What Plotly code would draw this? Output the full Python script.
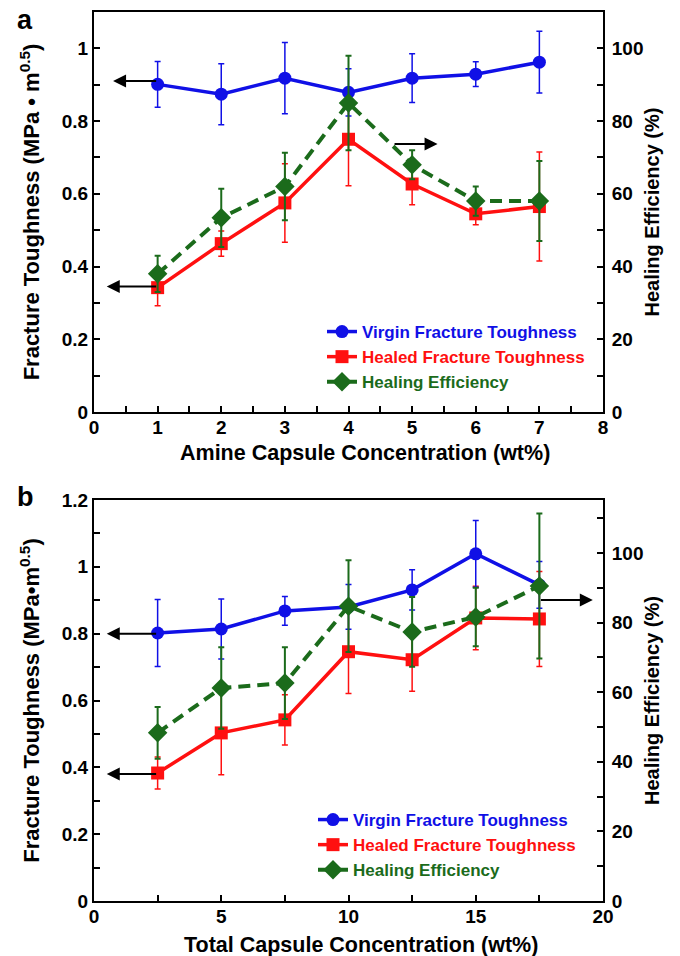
import plotly.graph_objects as go
from plotly.subplots import make_subplots

# ---------- Panel a data ----------
a_x = [1, 2, 3, 4, 5, 6, 7]
a_virgin = [0.901, 0.874, 0.918, 0.879, 0.918, 0.929, 0.962]
a_virgin_err = [0.063, 0.084, 0.098, 0.065, 0.067, 0.034, 0.085]
a_healed = [0.342, 0.463, 0.575, 0.750, 0.627, 0.545, 0.565]
a_healed_err = [0.050, 0.035, 0.108, 0.128, 0.057, 0.030, 0.150]
a_eff = [38, 53.4, 62, 85, 68, 58, 58]
a_eff_err = [5, 8, 9.3, 13, 4, 4, 11]

# ---------- Panel b data ----------
b_x = [2.5, 5, 7.5, 10, 12.5, 15, 17.5]
b_virgin = [0.802, 0.814, 0.868, 0.880, 0.931, 1.039, 0.946]
b_virgin_err = [0.100, 0.090, 0.043, 0.067, 0.060, 0.100, 0.070]
b_healed = [0.383, 0.503, 0.542, 0.746, 0.722, 0.847, 0.844]
b_healed_err = [0.048, 0.125, 0.075, 0.125, 0.094, 0.095, 0.142]
b_eff = [48.3, 61.2, 62.6, 84.7, 77.3, 81.6, 90.5]
b_eff_err = [7.4, 11.7, 10.3, 13.2, 10, 8.4, 20.8]

# arrows: (head_x, head_y, tail_x, tail_y) on left axis units
a_arrows = [(0.3, 0.91, 1.0, 0.91), (0.2, 0.345, 1.0, 0.345), (5.4, 0.737, 4.7, 0.737)]
b_arrows = [(0.5, 0.80, 2.5, 0.80), (0.5, 0.38, 2.5, 0.38), (19.6, 0.901, 17.5, 0.901)]

BLUE = "#1010e6"
RED = "#ff1010"
GREEN = "#1b6b1b"
FONT = "Liberation Sans, Arial, sans-serif"

fig = make_subplots(rows=2, cols=1, specs=[[{"secondary_y": True}], [{"secondary_y": True}]])


def add_panel(row, x, v, ve, h, he, e, ee):
    leg = "legend" if row == 1 else "legend2"
    fig.add_trace(go.Scatter(
        x=x, y=h, mode="lines+markers",
        name='<span style="color:#ff1010">Healed Fracture Toughness</span>',
        line=dict(color=RED, width=3.5),
        marker=dict(symbol="square", size=13, color=RED),
        error_y=dict(type="data", array=he, color=RED, thickness=1.5, width=3),
        showlegend=True, legendrank=2, legend=leg),
        row=row, col=1, secondary_y=False)
    fig.add_trace(go.Scatter(
        x=x, y=v, mode="lines+markers",
        name='<span style="color:#1010e6">Virgin Fracture Toughness</span>',
        line=dict(color=BLUE, width=3.5),
        marker=dict(symbol="circle", size=13, color=BLUE),
        error_y=dict(type="data", array=ve, color=BLUE, thickness=1.5, width=3),
        showlegend=True, legendrank=1, legend=leg),
        row=row, col=1, secondary_y=False)
    fig.add_trace(go.Scatter(
        x=x, y=e, mode="lines+markers",
        name='<span style="color:#1b6b1b">Healing Efficiency</span>',
        line=dict(color=GREEN, width=4, dash="12px,7px"),
        marker=dict(symbol="diamond", size=15, color=GREEN),
        error_y=dict(type="data", array=ee, color=GREEN, thickness=2, width=3),
        showlegend=True, legendrank=3, legend=leg),
        row=row, col=1, secondary_y=True)


add_panel(1, a_x, a_virgin, a_virgin_err, a_healed, a_healed_err, a_eff, a_eff_err)
add_panel(2, b_x, b_virgin, b_virgin_err, b_healed, b_healed_err, b_eff, b_eff_err)

anns = []
for (hx, hy, tx, ty) in a_arrows:
    anns.append(dict(x=hx, y=hy, ax=tx, ay=ty, xref="x", yref="y", axref="x", ayref="y",
                     showarrow=True, arrowhead=2, arrowsize=1.3, arrowwidth=2, arrowcolor="black", text=""))
for (hx, hy, tx, ty) in b_arrows:
    anns.append(dict(x=hx, y=hy, ax=tx, ay=ty, xref="x2", yref="y3", axref="x2", ayref="y3",
                     showarrow=True, arrowhead=2, arrowsize=1.3, arrowwidth=2, arrowcolor="black", text=""))

L, T, R, B = 94, 12, 603, 901
PW = float(R - L)
PH = float(B - T)


def px(xp):
    return (xp - L) / PW


def py(yp):
    return (B - yp) / PH


anns.append(dict(x=px(15), y=py(20), xref="paper", yref="paper", text="<b>a</b>",
                 showarrow=False, font=dict(family=FONT, size=27, color="black"),
                 xanchor="left", yanchor="middle"))
anns.append(dict(x=px(15), y=py(497), xref="paper", yref="paper", text="<b>b</b>",
                 showarrow=False, font=dict(family=FONT, size=27, color="black"),
                 xanchor="left", yanchor="middle"))
xtitle_font = dict(family=FONT, size=21.5, color="black", weight="bold")
anns.append(dict(x=px(365), y=py(439), xref="paper", yref="paper",
                 text="Amine Capsule Concentration (wt%)", showarrow=False, font=xtitle_font,
                 xanchor="center", yanchor="top"))
anns.append(dict(x=px(361), y=py(931), xref="paper", yref="paper",
                 text="Total Capsule Concentration (wt%)", showarrow=False, font=xtitle_font,
                 xanchor="center", yanchor="top"))

tickfont = dict(family=FONT, size=19, color="black", weight="bold")
titlefont_l = dict(family=FONT, size=22, color="black", weight="bold")
titlefont_r = dict(family=FONT, size=20, color="black", weight="bold")

top_dom = [py(412), 1.0]
bot_dom = [0.0, py(500)]

ax_common = dict(showgrid=False, zeroline=False, showline=True, linecolor="black", linewidth=2,
                 ticks="inside", ticklen=6, tickwidth=2, tickcolor="black", tickfont=tickfont,
                 automargin=False)

fig.update_layout(
    xaxis=dict(domain=[0, 1], range=[0, 8], dtick=1, mirror=True, ticklabelstandoff=-3,
               minor=dict(ticks="inside", dtick=0.5, ticklen=6, tickwidth=2, tickcolor="black"),
               **ax_common),
    yaxis=dict(domain=top_dom, range=[0, 1.1], dtick=0.2, tick0=0,
               minor=dict(ticks="inside", dtick=0.1, ticklen=6, tickwidth=2, tickcolor="black"),
               title=dict(text="Fracture Toughness (MPa • m<sup>0.5</sup>)", font=titlefont_l, standoff=16),
               **ax_common),
    yaxis2=dict(range=[0, 110], dtick=20, tick0=0, ticklabelstandoff=3,
                minor=dict(ticks="inside", dtick=10, ticklen=6, tickwidth=2, tickcolor="black"),
                title=dict(text="Healing Efficiency (%)", font=titlefont_r, standoff=2),
                **ax_common),
    xaxis2=dict(domain=[0, 1], range=[0, 20], dtick=5, mirror=True, ticklabelstandoff=-3,
                minor=dict(ticks="inside", dtick=2.5, ticklen=6, tickwidth=2, tickcolor="black"),
                **ax_common),
    yaxis3=dict(domain=bot_dom, range=[0, 1.2], dtick=0.2, tick0=0,
                minor=dict(ticks="inside", dtick=0.1, ticklen=6, tickwidth=2, tickcolor="black"),
                title=dict(text="Fracture Toughness (MPa•m<sup>0.5</sup>)", font=titlefont_l, standoff=16),
                **ax_common),
    yaxis4=dict(range=[0, 115.2], dtick=20, tick0=0, ticklabelstandoff=3,
                minor=dict(ticks="inside", dtick=10, ticklen=6, tickwidth=2, tickcolor="black"),
                title=dict(text="Healing Efficiency (%)", font=titlefont_r, standoff=2),
                **ax_common),
)

legfont = dict(family=FONT, size=17, weight="bold")
fig.update_layout(
    width=680, height=956,
    margin=dict(l=L, r=680 - R, t=T, b=956 - B),
    plot_bgcolor="white", paper_bgcolor="white",
    legend=dict(x=px(322), y=py(314), xanchor="left", yanchor="top",
                bgcolor="rgba(0,0,0,0)", font=legfont, itemwidth=30, traceorder="normal"),
    legend2=dict(x=px(313), y=py(802), xanchor="left", yanchor="top",
                 bgcolor="rgba(0,0,0,0)", font=legfont, itemwidth=30, traceorder="normal"),
    annotations=anns,
)

fig.write_html("out.html", config={"displayModeBar": False},
               post_script="document.body.style.margin='0px';")
